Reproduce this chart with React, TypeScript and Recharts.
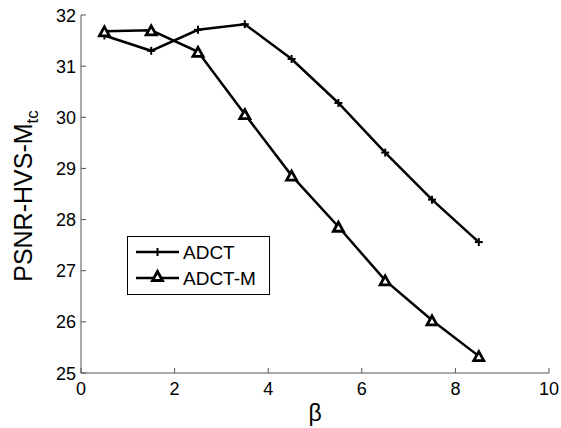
import React from 'react';
import { LineChart, Line, XAxis, YAxis } from 'recharts';

const betaValues = [0.5, 1.5, 2.5, 3.5, 4.5, 5.5, 6.5, 7.5, 8.5];
const adctValues = [31.6, 31.3, 31.71, 31.82, 31.14, 30.28, 29.31, 28.39, 27.56];
const adctMValues = [31.68, 31.7, 31.28, 30.06, 28.86, 27.86, 26.81, 26.03, 25.33];
const xTicks = [0, 2, 4, 6, 8, 10];
const yTicks = [25, 26, 27, 28, 29, 30, 31, 32];
const seriesNames = ['ADCT', 'ADCT-M'];

const data = betaValues.map((b, i) => ({ beta: b, adct: adctValues[i], adctM: adctMValues[i] }));

const FONT = '"Liberation Sans", Arial, sans-serif';
const AXIS_COLOR = '#555';

const XTick = (props: any) => {
  const { x, y, payload } = props;
  return (
    <g>
      <line x1={x} y1={y} x2={x} y2={y - 5} stroke={AXIS_COLOR} strokeWidth={1} />
      <text x={x} y={y + 22} textAnchor="middle" fontSize={18} fontFamily={FONT} fill="#000">
        {payload.value}
      </text>
    </g>
  );
};

const YTick = (props: any) => {
  const { x, y, payload } = props;
  return (
    <g>
      <line x1={x} y1={y} x2={x + 5} y2={y} stroke={AXIS_COLOR} strokeWidth={1} />
      <text x={x - 5} y={y + 6.5} textAnchor="end" fontSize={18} fontFamily={FONT} fill="#000">
        {payload.value}
      </text>
    </g>
  );
};

const PlusDot = (props: any) => {
  const { cx, cy } = props;
  if (cx == null || cy == null) return null;
  const s = 4;
  return (
    <g>
      <line x1={cx - s} y1={cy} x2={cx + s} y2={cy} stroke="#000" strokeWidth={2} />
      <line x1={cx} y1={cy - s} x2={cx} y2={cy + s} stroke="#000" strokeWidth={2} />
    </g>
  );
};

const TriDot = (props: any) => {
  const { cx, cy } = props;
  if (cx == null || cy == null) return null;
  const w = 5;
  const h = 4.5;
  return (
    <polygon
      points={`${cx},${cy - h} ${cx + w},${cy + h} ${cx - w},${cy + h}`}
      fill="#fff"
      stroke="#000"
      strokeWidth={2.8}
      strokeLinejoin="miter"
    />
  );
};

const YLabel = () => (
  <text transform="rotate(-90)" x={-196} y={32} textAnchor="middle" fontSize={25} fontFamily={FONT} fill="#000">
    PSNR-HVS-M
    <tspan fontSize={17} dy={6}>tc</tspan>
  </text>
);

const XLabel = () => (
  <text x={315} y={421} textAnchor="middle" fontSize={23} fontFamily={FONT} fill="#000">
    β
  </text>
);

const LegendBox = () => (
  <svg width={144} height={60} style={{ display: 'block' }}>
    <rect x={0.5} y={0.5} width={142} height={58} fill="#fff" stroke="#000" strokeWidth={1} />
    <line x1={9} y1={16} x2={52} y2={16} stroke="#000" strokeWidth={2.5} />
    <PlusDot cx={30.5} cy={16} />
    <text x={56} y={23} fontSize={19} fontFamily={FONT} fill="#000">{seriesNames[0]}</text>
    <line x1={9} y1={42} x2={52} y2={42} stroke="#000" strokeWidth={2.5} />
    <TriDot cx={30.5} cy={40} />
    <text x={56} y={49} fontSize={19} fontFamily={FONT} fill="#000">{seriesNames[1]}</text>
  </svg>
);

export default function App() {
  return (
    <div style={{ position: 'absolute', left: 0, top: 0, width: 561, height: 428, background: '#fff' }}>
      <LineChart width={561} height={428} data={data} margin={{ top: 15, right: 12, bottom: 0, left: 0 }}>
        <XAxis
          dataKey="beta"
          type="number"
          domain={[0, 10]}
          ticks={xTicks}
          height={55}
          tickSize={0}
          tickMargin={0}
          tickLine={false}
          axisLine={{ stroke: AXIS_COLOR, strokeWidth: 1 }}
          tick={<XTick />}
          label={<XLabel />}
          interval={0}
        />
        <YAxis
          type="number"
          domain={[25, 32]}
          ticks={yTicks}
          width={81}
          tickSize={0}
          tickMargin={0}
          tickLine={false}
          axisLine={{ stroke: AXIS_COLOR, strokeWidth: 1 }}
          tick={<YTick />}
          label={<YLabel />}
          interval={0}
        />
        <Line
          dataKey="adct"
          name={seriesNames[0]}
          stroke="#000"
          strokeWidth={2.5}
          dot={<PlusDot />}
          activeDot={false}
          isAnimationActive={false}
        />
        <Line
          dataKey="adctM"
          name={seriesNames[1]}
          stroke="#000"
          strokeWidth={2.5}
          dot={<TriDot />}
          activeDot={false}
          isAnimationActive={false}
        />
      </LineChart>
      <div style={{ position: 'absolute', left: 127, top: 236 }}>
        <LegendBox />
      </div>
    </div>
  );
}
